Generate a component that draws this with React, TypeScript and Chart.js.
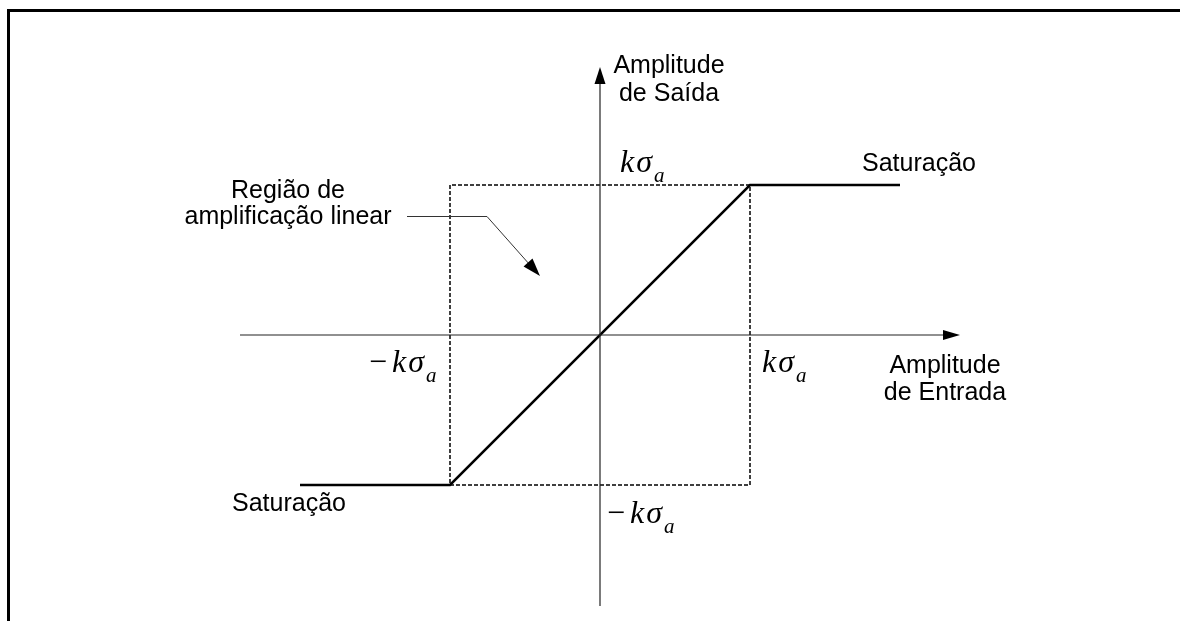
import React, { useEffect, useRef } from "react";
import { Chart, registerables } from "chart.js";

Chart.register(...registerables);

// Transfer characteristic (units of kσa)
const curveX = [-2, -1, 1, 2];
const curveY = [-1, -1, 1, 1];
// Linear amplification region (dashed box)
const boxX = [-1, 1, 1, -1, -1];
const boxY = [-1, -1, 1, 1, -1];
// Axes extents
const xAxisX = [-2.4, 2.31];
const xAxisY = [0, 0];
const yAxisX = [0, 0];
const yAxisY = [-1.807, 1.68];

const outputLabel = ["Amplitude", "de Saída"];
const inputLabel = ["Amplitude", "de Entrada"];
const regionLabel = ["Região de", "amplificação linear"];
const satLabel = "Saturação";

const toPts = (xs: number[], ys: number[]) => xs.map((x, i) => ({ x, y: ys[i] }));

export default function App() {
  const ref = useRef<HTMLCanvasElement | null>(null);
  useEffect(() => {
    if (!ref.current) return;
    const decor = {
      id: "decor",
      afterDraw(chart: any) {
        const ctx = chart.ctx as CanvasRenderingContext2D;
        const sx = chart.scales.x;
        const sy = chart.scales.y;
        const px = (v: number) => sx.getPixelForValue(v);
        const py = (v: number) => sy.getPixelForValue(v);
        ctx.save();
        // frame
        ctx.fillStyle = "#000";
        ctx.fillRect(7, 9, 1180, 3);
        ctx.fillRect(7, 9, 3, 621);
        // arrowheads on axes
        const ox = px(0), oy = py(0);
        ctx.fillStyle = "#000";
        ctx.beginPath();
        ctx.moveTo(ox, 67);
        ctx.lineTo(ox - 5.5, 84);
        ctx.lineTo(ox + 5.5, 84);
        ctx.closePath();
        ctx.fill();
        ctx.beginPath();
        ctx.moveTo(960, oy);
        ctx.lineTo(943, oy - 5);
        ctx.lineTo(943, oy + 5);
        ctx.closePath();
        ctx.fill();
        // callout
        ctx.strokeStyle = "#333";
        ctx.lineWidth = 1;
        ctx.beginPath();
        ctx.moveTo(407, 216.5);
        ctx.lineTo(487, 216.5);
        ctx.lineTo(530, 265);
        ctx.stroke();
        ctx.beginPath();
        const tx = 540, ty = 276;
        const ang = Math.atan2(276 - 216.5, 540 - 487);
        const hl = 18, hw = 6;
        const bx = tx - hl * Math.cos(ang), by = ty - hl * Math.sin(ang);
        ctx.moveTo(tx, ty);
        ctx.lineTo(bx + hw * Math.sin(ang), by - hw * Math.cos(ang));
        ctx.lineTo(bx - hw * Math.sin(ang), by + hw * Math.cos(ang));
        ctx.closePath();
        ctx.fill();
        // sans labels
        ctx.fillStyle = "#000";
        ctx.font = '25px "Liberation Sans", Arial, sans-serif';
        ctx.textBaseline = "middle";
        ctx.textAlign = "center";
        ctx.fillText(outputLabel[0], 669, 66);
        ctx.fillText(outputLabel[1], 669, 94);
        ctx.fillText(inputLabel[0], 945, 366);
        ctx.fillText(inputLabel[1], 945, 393);
        ctx.fillText(regionLabel[0], 288, 191);
        ctx.fillText(regionLabel[1], 288, 217);
        ctx.textAlign = "left";
        ctx.fillText(satLabel, 862, 164);
        ctx.fillText(satLabel, 232, 504);
        // math labels
        const math = (x: number, y: number, neg: boolean) => {
          ctx.textBaseline = "alphabetic";
          ctx.textAlign = "left";
          let cx = x;
          if (neg) {
            ctx.font = '32px "Liberation Serif", "Times New Roman", serif';
            ctx.fillText("\u2212", cx, y);
            cx += ctx.measureText("\u2212").width + 5;
          }
          ctx.font = 'italic 32px "Liberation Serif", "Times New Roman", serif';
          ctx.fillText("k", cx, y);
          cx += ctx.measureText("k").width + 2;
          ctx.fillText("\u03c3", cx, y);
          cx += ctx.measureText("\u03c3").width + 2;
          ctx.font = 'italic 21px "Liberation Serif", "Times New Roman", serif';
          ctx.fillText("a", cx, y + 10);
        };
        math(620, 172, false);
        math(762, 372, false);
        math(369, 372, true);
        math(607, 523, true);
        ctx.restore();
      },
    };
    const chart = new Chart(ref.current, {
      type: "scatter",
      data: {
        datasets: [
          {
            data: toPts(xAxisX, xAxisY),
            showLine: true,
            borderColor: "#222",
            borderWidth: 1.2,
            pointRadius: 0,
          },
          {
            data: toPts(yAxisX, yAxisY),
            showLine: true,
            borderColor: "#222",
            borderWidth: 1.2,
            pointRadius: 0,
          },
          {
            data: toPts(boxX, boxY),
            showLine: true,
            borderColor: "#000",
            borderWidth: 1.5,
            borderDash: [4, 2],
            pointRadius: 0,
          },
          {
            data: toPts(curveX, curveY),
            showLine: true,
            borderColor: "#000",
            borderWidth: 2.5,
            pointRadius: 0,
          },
        ],
      },
      options: {
        animation: false,
        responsive: false,
        layout: { padding: 0 },
        plugins: { legend: { display: false }, tooltip: { enabled: false } },
        scales: {
          x: { type: "linear", display: false, min: -4, max: 580 / 150 },
          y: { type: "linear", display: false, min: -286 / 150, max: 335 / 150 },
        },
      },
      plugins: [decor],
    });
    return () => chart.destroy();
  }, []);
  return (
    <div style={{ position: "absolute", left: 0, top: 0, width: 1180, height: 621, background: "#fff" }}>
      <canvas ref={ref} width={1180} height={621} style={{ display: "block" }} />
    </div>
  );
}
